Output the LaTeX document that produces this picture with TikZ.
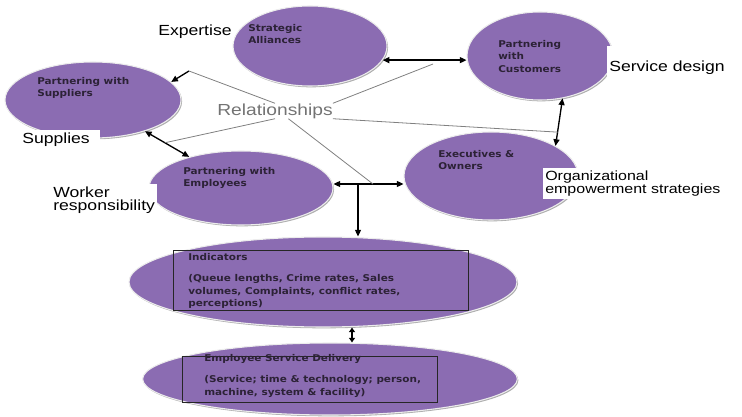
\documentclass[tikz,border=0pt]{standalone}
\usepackage{fontspec}
\setmainfont{Liberation Sans}
\newfontfamily\tagfont{Liberation Sans}[FakeStretch=1.2]
\newfontfamily\bubblefont{DejaVu Sans}[FakeStretch=1.12]
\usetikzlibrary{positioning,shapes.geometric,arrows.meta,shadows,calc}
\definecolor{lilac}{RGB}{139,108,178}
\definecolor{ink}{RGB}{44,34,54}

\begin{document}
\begin{tikzpicture}[x=0.75pt, y=-0.75pt,
    bubble/.style={ellipse, fill=lilac, draw=white!85!gray, line width=0.8pt, inner sep=0pt,
        drop shadow={shadow xshift=0.8pt, shadow yshift=-1pt, fill=gray!80, opacity=0.8}},
    inside/.style={anchor=north west, inner sep=0pt, align=left, text=ink,
        font=\bubblefont\bfseries\fontsize{7}{9.4}\selectfont},
    frame/.style={draw=black!85, line width=0.8pt, anchor=north west, inner sep=0pt},
    tag/.style={anchor=north west, fill=white, inner xsep=1.5pt, inner ysep=2pt, align=left,
        font=\tagfont\fontsize{11}{9.75}\selectfont},
    tie/.style={draw=gray, line width=0.6pt},
    arr/.style={draw=black, line width=1pt, -{Triangle[length=5pt,width=4.5pt]}},
    dbl/.style={arr, {Triangle[length=5pt,width=4.5pt]}-{Triangle[length=5pt,width=4.5pt]}}]
    \useasboundingbox (0,0) rectangle (742,417);

    \node[bubble, minimum width=115.5pt, minimum height=60pt] (sa) at (310,46) {};
    \node[bubble, minimum width=109.5pt, minimum height=66pt] (cu) at (540,56) {};
    \node[bubble, minimum width=132pt, minimum height=57pt] (su) at (93,100) {};
    \node[bubble, minimum width=138pt, minimum height=55.5pt] (em) at (241,188) {};
    \node[bubble, minimum width=130.5pt, minimum height=66pt] (ex) at (491,176) {};
    \node[bubble, minimum width=291pt, minimum height=67.5pt] (ind) at (323,282) {};
    \node[bubble, minimum width=281pt, minimum height=54pt] (esd) at (330,379) {};

    \node[inside] (satxt) at (248,24) {Strategic\\Alliances};
    \node[inside] (cutxt) at (498,40) {Partnering\\with\\Customers};
    \node[inside] (sutxt) at (37,77) {Partnering with\\Suppliers};
    \node[inside] (emtxt) at (183,167) {Partnering with\\Employees};
    \node[inside] (extxt) at (438,150) {Executives \&\\Owners};

    \node[frame, minimum width=221pt, minimum height=45pt] (indbox) at (173,250) {};
    \node[inside] (indtxt) at (188,253) {Indicators\\[6.75pt](Queue lengths, Crime rates, Sales\\volumes, Complaints, conflict rates,\\perceptions)};
    \node[frame, minimum width=191pt, minimum height=34.5pt] (esdbox) at (182,356) {};
    \node[inside] (esdtxt) at (204,354) {Employee Service Delivery\\[6.75pt](Service; time \& technology; person,\\machine, system \& facility)};

    \node[tag] (expertise) at (156,22) {Expertise};
    \node[tag, minimum height=31.5pt] (design) at (607,46) {Service design};
    \node[tag, text width=58.5pt, inner xsep=0pt] (supplies) at (22,130) {Supplies};
    \node[tag] (worker) at (51,184) {Worker\\responsibility};
    \node[tag, font=\tagfont\fontsize{10}{9.75}\selectfont] (orgn) at (543,168) {Organizational\\empowerment strategies};
    \node[font=\tagfont\fontsize{12}{14}\selectfont, text=gray!90!black, inner sep=0pt] (rel) at (275,111) {Relationships};

    \coordinate (psu) at (189,71);
    \coordinate (psa) at (433,64);
    \coordinate (tj) at (358,184);
    \coordinate (pem) at (373,184);
    \coordinate (pcx) at ($(cu.-62)!0.71!(ex.25)$);
    \coordinate (pse) at ($(su.-31)!0.45!(em.149)$);

    \path
        (psu) edge[arr] (su.13)
        (sa.-11) edge[dbl] (sa.-11 -| cu.west)
        (cu.-62) edge[dbl] (ex.25)
        (su.-31) edge[dbl] (em.149)
        (tj) edge[arr] (em.east |- tj)
        (tj) edge[arr] (ex.west |- tj)
        (tj) edge[arr] (tj |- ind.north)
        ($(ind.south)+(29,0)$) edge[dbl, {Triangle[length=3.5pt,width=4.5pt]}-{Triangle[length=3.5pt,width=4.5pt]}] ($(esd.north)+(22,0)$)
        ;
    \path
        (rel.north) edge[tie] (psu)
        (rel.north east) edge[tie] (psa)
        (rel.south east) edge[tie] (pcx)
        (rel.south) edge[tie] (pse)
        (rel.-30) edge[tie] (pem)
        ;
\end{tikzpicture}
\end{document}
